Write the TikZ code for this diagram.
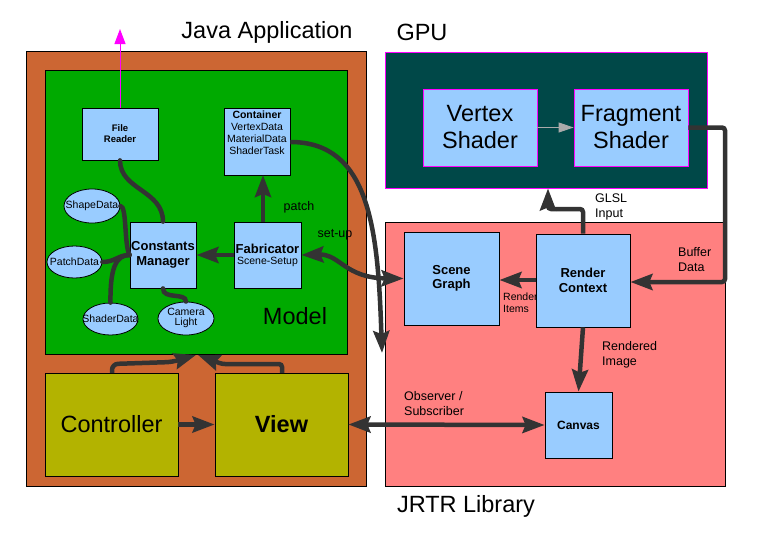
\documentclass[tikz,border=0pt]{standalone}
\usepackage{fontspec}
\setmainfont{Liberation Sans}
\usetikzlibrary{arrows.meta,shapes.geometric}
\definecolor{orangeb}{HTML}{CC6633}
\definecolor{greenb}{HTML}{00AA00}
\definecolor{lblue}{HTML}{99CCFF}
\definecolor{oliveb}{HTML}{B3B300}
\definecolor{tealb}{HTML}{004848}
\definecolor{pinkb}{HTML}{FF8080}
\definecolor{dk}{HTML}{333333}
\definecolor{mag}{HTML}{FF00FF}
\definecolor{lgray}{HTML}{AAAAAA}
\begin{document}
\begin{tikzpicture}[x=1pt,y=-1pt,
  box/.style={draw=black,line width=0.8pt,inner sep=0pt,align=center},
  ell/.style={ellipse,draw=black,line width=0.8pt,fill=lblue,inner sep=0pt,font=\fontsize{10.5}{12}\selectfont},
  big/.style={font=\fontsize{23.5}{27}\selectfont},
  bigb/.style={font=\fontsize{23.5}{27}\selectfont\bfseries},
  mid/.style={font=\fontsize{13}{14.5}\selectfont\bfseries},
  lbl/.style={font=\fontsize{12.5}{15}\selectfont,inner sep=0pt,align=left},
  conn/.style={line width=4.5pt,draw=dk,line cap=round},
  arr/.style={line width=4.5pt,draw=dk,-{Stealth[length=22pt,width=16pt,inset=3pt]}},
  darr/.style={line width=4.5pt,draw=dk,{Stealth[length=22pt,width=16pt,inset=3pt]}-{Stealth[length=22pt,width=16pt,inset=3pt]}}
]
\useasboundingbox (0,0) rectangle (772,552);
% titles
\node[big] (tjava) at (267,32) {Java Application};
\node[big] (tgpu) at (422,32) {GPU};
\node[big] (tjrtr) at (466,506) {JRTR Library};
% containers
\node[box,fill=orangeb,minimum width=340pt,minimum height=435pt] (java) at (196,268.5) {};
\node[box,fill=greenb,minimum width=302pt,minimum height=284pt] (model) at (196,212) {};
\node[box,fill=tealb,draw=mag,minimum width=322pt,minimum height=136pt] (gpu) at (546,120) {};
\node[box,fill=pinkb,minimum width=340pt,minimum height=264pt] (jrtr) at (555,354) {};
\node[big] (tmodel) at (295,316) {Model};
% GPU
\node[box,fill=lblue,draw=mag,minimum width=114pt,minimum height=77pt,big] (vs) at (480,127.5) {Vertex\\Shader};
\node[box,fill=lblue,draw=mag,minimum width=114pt,minimum height=77pt,big] (fs) at (631,127.5) {Fragment\\Shader};
\draw[line width=1pt,lgray,-{Triangle[length=15pt,width=10pt]}] (vs.east) -- (fs.east -| fs.west);
% model internals
\node[box,fill=lblue,minimum width=76pt,minimum height=52pt,font=\fontsize{9.5}{11}\selectfont\bfseries] (fr) at (120,134) {File\\Reader};
\node[box,fill=lblue,minimum width=66pt,minimum height=67pt] (cont) at (257,141.5) {};
\node[inner sep=0pt,align=center,font=\fontsize{10.5}{12}\selectfont,anchor=north] (conttext) at (257,111) {\textbf{Container}\\VertexData\\MaterialData\\ShaderTask};
\node[box,fill=lblue,minimum width=66pt,minimum height=66pt,mid] (cm) at (163,255) {Constants\\Manager};
\node[box,fill=lblue,minimum width=67pt,minimum height=66pt] (fab) at (267.5,255) {{\fontsize{13}{14.5}\selectfont\bfseries Fabricator}\\[-1pt]{\fontsize{10.5}{12}\selectfont Scene-Setup}};
\node[ell,minimum width=56pt,minimum height=34pt] (shape) at (92,206) {\makebox[0pt]{ShapeData}};
\node[ell,minimum width=55pt,minimum height=32pt] (patch) at (74.5,262) {\makebox[0pt]{PatchData}};
\node[ell,minimum width=55pt,minimum height=32pt] (shader) at (110.5,319) {\makebox[0pt]{ShaderData}};
\node[ell,minimum width=56pt,minimum height=33pt] (camera) at (186,318.5) {\makebox[0pt]{\begin{tabular}{@{}c@{}}Camera\\[-2pt]Light\end{tabular}}};
% magenta arrow
\coordinate (frtop) at (120,29);
\draw[line width=1pt,mag,-{Triangle[length=15pt,width=11pt]}] (fr.north) -- (frtop);
% model connectors
\draw[conn] (fr.south) .. controls (120,190) and (163,190) .. (cm.north);
\draw[conn] (shape.east) .. controls (127,206) and (124,245) .. (cm.west);
\draw[conn] (patch.east) .. controls (115,262) and (118,255) .. (cm.west);
\draw[conn] (shader.north) .. controls (110,268) and (116,255) .. (cm.west);
\draw[conn] (camera.north) .. controls (186,292) and (163,300) .. (cm.south);
\draw[arr] (fab.west) -- (cm.east);
\draw[arr] (263,222) -- (263,175);
\node[lbl] (tpatch) at (299,207) {patch};
% controller / view
\node[box,fill=oliveb,minimum width=133pt,minimum height=103pt,big] (ctrl) at (111.5,424.5) {Controller};
\node[box,fill=oliveb,minimum width=133pt,minimum height=103pt,bigb] (view) at (281.5,424.5) {View};
\coordinate (mb1) at (196,355);
\coordinate (mb2) at (198,355);
\draw[arr,rounded corners=6pt] (112,373) -- (112,364) -- (172,362) -- (mb1);
\draw[arr,rounded corners=3pt] (282,373) -- (282,364) -- (222,364) -- (mb2);
\draw[arr] (ctrl.east) -- (view.west);
% JRTR
\node[lbl,font=\fontsize{10.5}{12}\selectfont] (titems) at (503,303) [anchor=west] {Render\\Items};
\node[box,fill=lblue,minimum width=95pt,minimum height=93pt,mid] (sg) at (451.5,278.5) {Scene\\Graph};
\node[box,fill=lblue,minimum width=94pt,minimum height=93pt,mid] (rc) at (583,280.5) {Render\\Context};
\node[box,fill=lblue,minimum width=67pt,minimum height=66pt,font=\fontsize{12}{14}\selectfont\bfseries] (canvas) at (578.5,425) {Canvas};
\draw[arr] (rc.west |- 0,280) -- (sg.east |- 0,280);
\draw[arr] (rc.south) -- (canvas.north);
\draw[arr,rounded corners=3pt] (fs.east) -- (725,127.5) -- (725,282) -- (rc.east |- 0,282);
\draw[arr,rounded corners=3pt] (rc.north) -- (583,209) -- (548,209) -- (gpu.south -| 548,0);
\draw[darr] (view.east) -- (canvas.west);
\draw[darr] (fab.east) .. controls (340,254) and (345,278) .. (sg.west);
\draw[arr] (cont.east |- 0,142) .. controls (370,142) and (378,230) .. (382,353);
% labels
\node[lbl,anchor=west] (tglsl) at (595,206.5) {GLSL\\Input};
\node[lbl,anchor=west] (tbuf) at (678,259.5) {Buffer\\Data};
\node[lbl,anchor=west] (trend) at (602,354.5) {Rendered\\Image};
\node[lbl,anchor=west] (tobs) at (404,404) {Observer /\\Subscriber};
\node[lbl] (tsetup) at (335,235) {set-up};
\end{tikzpicture}
\end{document}
